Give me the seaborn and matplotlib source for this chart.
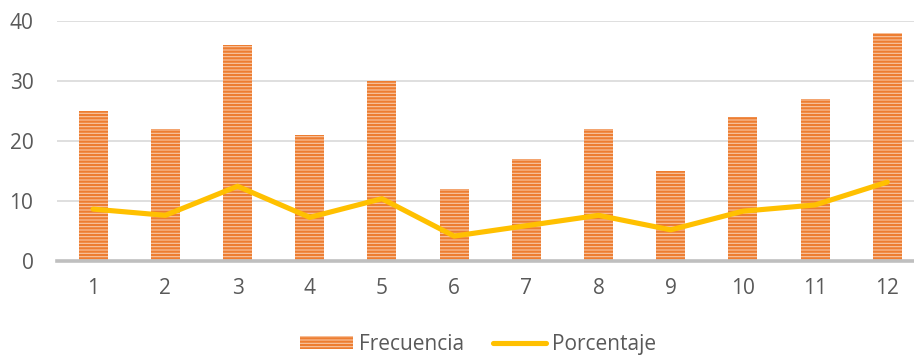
import matplotlib
matplotlib.use("Agg")
import matplotlib.pyplot as plt
from matplotlib.patches import Patch
from matplotlib.lines import Line2D
import seaborn as sns
import pandas as pd

categorias = ["1", "2", "3", "4", "5", "6", "7", "8", "9", "10", "11", "12"]
frecuencia = [25, 22, 36, 21, 30, 12, 17, 22, 15, 24, 27, 38]
porcentaje = [8.65, 7.61, 12.46, 7.27, 10.38, 4.15, 5.88, 7.61, 5.19, 8.30, 9.34, 13.15]
y_ticks = [0, 10, 20, 30, 40]

df = pd.DataFrame({"cat": categorias, "Frecuencia": frecuencia, "Porcentaje": porcentaje})

sns.set_theme(style="white")
plt.rcParams["font.family"] = ["Open Sans", "DejaVu Sans"]
plt.rcParams["hatch.color"] = "#ED7D31"
plt.rcParams["hatch.linewidth"] = 1.6

BAR_FACE = "#F9C7A4"
BAR_HATCH = "#ED7D31"
LINE_COLOR = "#FFC000"
TEXT = "#595959"
FS = 15

fig = plt.figure(figsize=(9.14, 3.56), dpi=100)
ax = fig.add_axes([0.0624, 0.2669, 1 - 0.0624, 0.941 - 0.2669])

sns.barplot(data=df, x="cat", y="Frecuencia", ax=ax, color=BAR_FACE,
            width=0.40, saturation=1, errorbar=None)
for bar in ax.patches:
    bar.set_facecolor(BAR_FACE)
    bar.set_edgecolor(BAR_HATCH)
    bar.set_hatch("-----")
    bar.set_linewidth(0)

sns.pointplot(data=df, x="cat", y="Porcentaje", ax=ax, color=LINE_COLOR,
              markers="", linewidth=3.7, errorbar=None)
for ln in ax.lines:
    ln.set_solid_capstyle("round")
    ln.set_solid_joinstyle("round")
    ln.set_zorder(4)

ax.set_ylim(0, 40)
ax.set_xlim(-0.5, 11.37)
ax.set_yticks(y_ticks)
ax.yaxis.grid(True, color="#D9D9D9", linewidth=1.2)
ax.set_axisbelow(True)
for side in ["top", "right", "left"]:
    ax.spines[side].set_visible(False)
ax.spines["bottom"].set_color("#BFBFBF")
ax.spines["bottom"].set_linewidth(2.6)
ax.spines["bottom"].set_zorder(5)
ax.set_xlabel("")
ax.set_ylabel("")
ax.tick_params(axis="y", length=0, pad=17, labelsize=FS, labelcolor=TEXT)
ax.tick_params(axis="x", length=0, pad=12, labelsize=FS, labelcolor=TEXT)

handles = [
    Patch(facecolor=BAR_FACE, edgecolor=BAR_HATCH, hatch="-----", linewidth=0),
    Line2D([0], [0], color=LINE_COLOR, linewidth=3.7, solid_capstyle="round"),
]
leg = fig.legend(handles, ["Frecuencia", "Porcentaje"], loc="center",
                 bbox_to_anchor=(0.523, 0.032), ncol=2, frameon=False,
                 fontsize=FS, handlelength=2.55, handleheight=0.55,
                 handletextpad=0.3, columnspacing=1.35)
for t in leg.get_texts():
    t.set_color(TEXT)

fig.savefig("out.png", dpi=100)
